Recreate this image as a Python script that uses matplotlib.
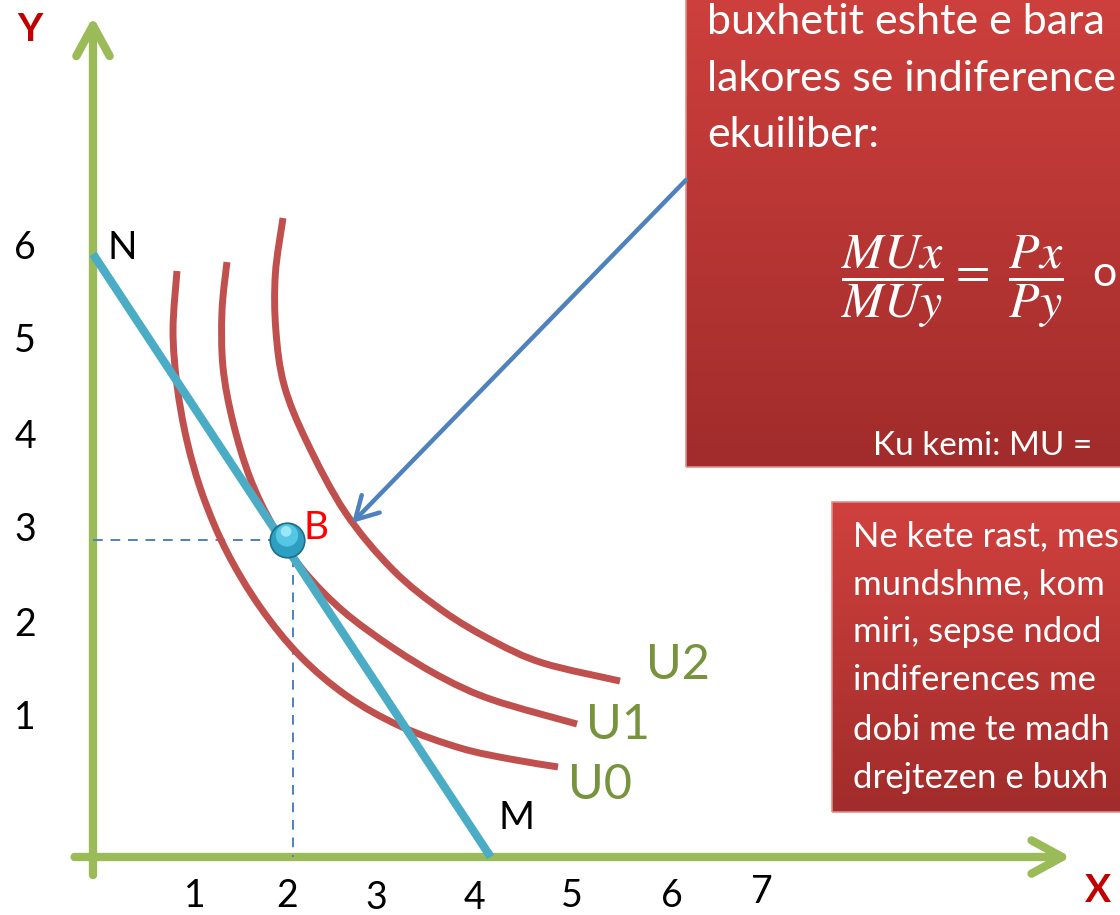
import numpy as np
import matplotlib
matplotlib.use("Agg")
import matplotlib.pyplot as plt
from matplotlib.colors import LinearSegmentedColormap
from matplotlib.patches import Rectangle, PathPatch
from matplotlib.path import Path

plt.rcParams['font.family'] = ['Lato', 'DejaVu Sans']
plt.rcParams['mathtext.fontset'] = 'stix'

# ---------------- data ----------------
# budget line N -> M
budget_x = [0.0, 4.1]
budget_y = [6.0, 0.0]

# indifference curves
u0_x = [0.866, 0.825, 0.866, 0.969, 1.134, 1.381, 1.722, 2.134, 2.619, 3.165, 3.784, 4.299, 4.794]
u0_y = [5.831, 5.244, 4.697, 4.139, 3.592, 3.035, 2.488, 2.000, 1.602, 1.303, 1.085, 0.975, 0.896]
u1_x = [1.381, 1.330, 1.340, 1.443, 1.619, 1.856, 2.165, 2.577, 3.093, 3.608, 4.124, 4.990]
u1_y = [5.920, 5.433, 4.876, 4.328, 3.771, 3.294, 2.856, 2.448, 2.080, 1.781, 1.562, 1.323]
u2_x = [1.959, 1.880, 1.885, 1.970, 2.200, 2.600, 3.093, 3.608, 4.124, 4.639, 5.433]
u2_y = [6.358, 5.801, 5.244, 4.697, 4.139, 3.430, 2.856, 2.448, 2.149, 1.930, 1.751]
curve_labels = ["U0", "U1", "U2"]

# equilibrium point B
eq_x = 2.0
eq_y = 3.15

x_tick_labels = ["1", "2", "3", "4", "5", "6", "7"]
y_tick_labels = ["1", "2", "3", "4", "5", "6"]

box1_lines = ["buxhetit eshte e bara",
              "lakores se indiference",
              "ekuiliber:"]
box1_formula = r"$\dfrac{MUx}{MUy} = \ \dfrac{Px}{Py}$"
box1_after = "o"
box1_note = "Ku kemi: MU ="
box2_lines = ["Ne kete rast, mes",
              "mundshme, kom",
              "miri, sepse ndod",
              "indiferences me",
              "dobi me te madh",
              "drejtezen e buxh"]

# ---------------- layout ----------------
W, H = 1120, 915
fig = plt.figure(figsize=(W / 100, H / 100), dpi=100)
ax = fig.add_axes([0, 0, 1, 1])
PX_X, PX_Y, OX, OY = 97.0, 100.5, 93.0, 857.0
ax.set_xlim(-OX / PX_X, (W - OX) / PX_X)
ax.set_ylim((OY - H) / PX_Y, OY / PX_Y)
ax.axis('off')

GREEN = '#9BBB59'
RED = '#C0504D'
CYAN = '#4BACC6'
BLUE = '#4F81BD'
LBLGREEN = '#77933C'

# axes arrows
arrow_kw = dict(arrowstyle='->,head_length=1.1,head_width=0.6', lw=6, color=GREEN,
                mutation_scale=20, shrinkA=0, shrinkB=0, capstyle='round', joinstyle='round')
ax.annotate("", xy=(0, 8.36), xytext=(0, -0.18), arrowprops=arrow_kw, zorder=2)
ax.annotate("", xy=(10.08, 0), xytext=(-0.19, 0), arrowprops=arrow_kw, zorder=2)

# dashed guides
ax.plot([0, eq_x], [eq_y, eq_y], ls=(0, (5, 4)), color=BLUE, lw=1.4, zorder=3)
ax.plot([eq_x + 0.06, eq_x + 0.06], [eq_y, 0], ls=(0, (5, 4)), color=BLUE, lw=1.4, zorder=3)


# indifference curves drawn as smooth Bezier paths through the read points
def smooth_path(xs, ys):
    P = np.column_stack([xs, ys])
    n = len(P)
    verts = [P[0]]
    codes = [Path.MOVETO]
    for i in range(n - 1):
        p0 = P[i - 1] if i > 0 else P[i]
        p1, p2 = P[i], P[i + 1]
        p3 = P[i + 2] if i + 2 < n else P[i + 1]
        c1 = p1 + (p2 - p0) / 6.0
        c2 = p2 - (p3 - p1) / 6.0
        verts += [c1, c2, p2]
        codes += [Path.CURVE4] * 3
    return Path(verts, codes)


for cx, cy in [(u0_x, u0_y), (u1_x, u1_y), (u2_x, u2_y)]:
    ax.add_patch(PathPatch(smooth_path(cx, cy), fill=False, ec=RED, lw=5,
                           capstyle='butt', joinstyle='round', zorder=4))

# budget line
ax.plot(budget_x, budget_y, color=CYAN, lw=6, solid_capstyle='butt', zorder=5)

# equilibrium ball
ax.scatter([eq_x], [eq_y], s=620, color='#2E9FC0', edgecolors='#1C6F88', linewidths=1.2, zorder=6)
ax.scatter([eq_x], [eq_y + 0.05], s=260, color='#55C6E4', edgecolors='none', zorder=7)
ax.scatter([eq_x - 0.01], [eq_y + 0.09], s=60, color='#9BE6F7', edgecolors='none', zorder=8)

# axis labels
ax.text(-0.649, 8.229, "Y", color='#C00000', fontsize=28, fontweight='bold', ha='center', va='center')
ax.text(10.36, -0.33, "X", color='#C00000', fontsize=28, fontweight='bold', ha='center', va='center')

# tick labels (hand placed like on a slide)
x_tick_pos = [1.052, 2.0, 2.918, 3.928, 4.938, 5.969, 6.897]
x_tick_y = [-0.388, -0.388, -0.405, -0.405, -0.388, -0.388, -0.348]
for lab, px, py in zip(x_tick_labels, x_tick_pos, x_tick_y):
    ax.text(px, py, lab, fontsize=27, ha='center', va='center', color='black')
y_tick_pos = [1.38, 2.31, 3.25, 4.18, 5.13, 6.06]
for lab, py in zip(y_tick_labels, y_tick_pos):
    ax.text(-0.701, py, lab, fontsize=27, ha='center', va='center', color='black')

ax.text(0.299, 6.06, "N", fontsize=28, ha='center', va='center')
ax.text(4.371, 0.388, "M", fontsize=28, ha='center', va='center')
ax.text(2.299, 3.274, "B", fontsize=28, ha='center', va='center', color='red')

for lab, (lx, ly) in zip(curve_labels, [(5.227, 0.716), (5.412, 1.313), (6.031, 1.910)]):
    ax.text(lx, ly, lab, fontsize=35, ha='center', va='center', color=LBLGREEN)

# gradient boxes
cmap = LinearSegmentedColormap.from_list('redgrad', ['#A12C2B', '#D0413E'])
grad = np.linspace(0, 1, 256).reshape(-1, 1)


def gbox(x0, x1, y0, y1):
    ax.imshow(grad, extent=(x0, x1, y0, y1), origin='lower', cmap=cmap, aspect='auto', zorder=9)
    ax.add_patch(Rectangle((x0, y0), x1 - x0, y1 - y0, fill=False, ec='#D9908E', lw=1.2, zorder=10))


gbox(6.113, 10.8, 3.881, 8.9)
gbox(7.619, 10.8, 0.448, 3.532)

for line, ly in zip(box1_lines, [8.308, 7.741, 7.184]):
    ax.text(6.33, ly, line, fontsize=31, color='white', ha='left', va='center', zorder=11)
ax.text(8.86, 5.721, box1_formula, fontsize=36, color='white', ha='center', va='center', zorder=11)
ax.text(10.30, 5.80, box1_after, fontsize=31, color='white', ha='left', va='center', zorder=11)
ax.text(8.041, 4.09, box1_note, fontsize=24, color='white', ha='left', va='center', zorder=11)

for line, ly in zip(box2_lines, [3.194, 2.716, 2.239, 1.761, 1.264, 0.786]):
    ax.text(7.835, ly, line, fontsize=25, color='white', ha='left', va='center', zorder=11)

# pointer arrow
ax.annotate("", xy=(2.670, 3.323), xytext=(6.113, 6.736),
            arrowprops=dict(arrowstyle='->,head_length=0.8,head_width=0.45', lw=3.2, color=BLUE,
                            mutation_scale=20, shrinkA=0, shrinkB=0), zorder=12)

ax.set_xlim(-OX / PX_X, (W - OX) / PX_X)
ax.set_ylim((OY - H) / PX_Y, OY / PX_Y)
fig.savefig("out.png", dpi=100)
